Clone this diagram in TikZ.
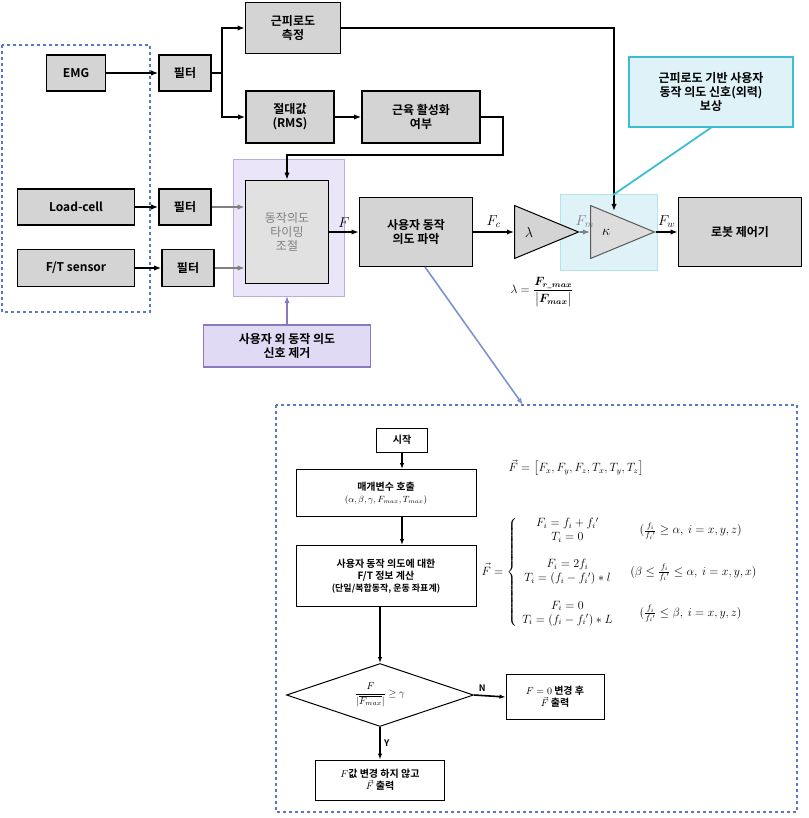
\documentclass[tikz,border=0pt]{standalone}
\usepackage{fontspec}
\usepackage{amsmath}
\setmainfont{Noto Sans CJK KR}[BoldFont={* Bold}]
\usetikzlibrary{arrows.meta,positioning,shapes.geometric}
\definecolor{boxgray}{RGB}{212,212,212}
\definecolor{dashblue}{RGB}{90,120,200}
\definecolor{lav}{RGB}{225,218,245}
\definecolor{lavedge}{RGB}{140,120,190}
\definecolor{aqua}{RGB}{222,242,248}
\definecolor{teal}{RGB}{60,190,210}
\tikzset{
  blk/.style={draw, line width=1.6pt, fill=boxgray, font=\bfseries\large, align=center, inner sep=2pt},
  flw/.style={draw, line width=1pt, fill=white, font=\bfseries, align=center, inner sep=2pt},
  amp/.style={draw, isosceles triangle, line width=1pt, fill=boxgray, inner sep=0pt, minimum height=44pt, minimum width=53pt, anchor=west, font=\Large},
  ln/.style={line width=1.6pt, -{Latex[length=7pt]}},
  fl/.style={line width=1.6pt, -{Latex[length=6pt]}}
}
\begin{document}
\begin{tikzpicture}[x=1pt,y=-1pt]
\useasboundingbox (0,0) rectangle (808,818);
% sensor group
\draw[dashblue, dashed, line width=1.2pt] (2,45) rectangle (150,312);
\node[blk, minimum width=59pt, minimum height=36pt] (emg) at (76,73) {EMG};
\node[blk, minimum width=117pt, minimum height=36pt] (load) at (76,207) {Load-cell};
\node[blk, minimum width=117pt, minimum height=37pt] (ftsen) at (76,268) {F/T sensor};
\node[blk, minimum width=52pt, minimum height=36pt] (fil1) at (185,73) {필터};
\node[blk, minimum width=52pt, minimum height=36pt] (fil2) at (185,207) {필터};
\node[blk, minimum width=52pt, minimum height=37pt] (fil3) at (188,268) {필터};
\node[blk, minimum width=95pt, minimum height=51pt] (fatig) at (293,28) {근피로도\\측정};
\node[blk, minimum width=88pt, minimum height=52pt] (rms) at (290,117) {절대값\\(RMS)};
\node[blk, minimum width=118pt, minimum height=52pt] (act) at (421,117) {근육 활성화\\여부};
% timing block
\draw[lavedge!60, fill=lav!70, line width=1pt] (233,160) rectangle (344,296);
\node[blk, fill=boxgray!70, text=gray, font=\large, minimum width=83pt, minimum height=103pt] (timing) at (287,232) {동작의도\\타이밍\\조절};
\node[draw=lavedge, line width=1.4pt, fill=lav, font=\bfseries\large, align=center, minimum width=167pt, minimum height=42pt, inner sep=1pt] (rej) at (287,346) {사용자 외 동작 의도\\신호 제거};
\coordinate (tbot) at (287,296);
\node[blk, minimum width=113pt, minimum height=69pt] (intent) at (416,232) {사용자 동작\\의도 파악};
% gains
\draw[fill=aqua, draw=teal!40, line width=1pt] (560,195) rectangle (657,270);
\node[amp] (lam) at (514,232) {$\lambda$\hspace*{6pt}};
\node[amp, fill=boxgray!80, draw=gray!70!black] (kap) at (590,232) {$\kappa$\hspace*{6pt}};
\node[blk, minimum width=123pt, minimum height=69pt] (robot) at (740,232) {로봇 제어기};
\node[draw=teal, line width=1.4pt, fill=aqua, font=\bfseries\large, align=center, minimum width=164pt, minimum height=70pt, inner sep=1pt] (comp) at (711,92) {근피로도 기반 사용자\\동작 의도 신호(외력)\\보상};
% connectors
\draw[ln] (emg) -- (fil1);
\draw[ln] (load) -- (fil2);
\draw[ln] (ftsen) -- (fil3);
\draw[line width=1.6pt] (fil1.east) -- (222,73);
\draw[ln] (222,73) |- (fatig.west);
\draw[ln] (222,73) |- (rms.west);
\draw[ln] (rms) -- (act);
\draw[ln] (act.east) -- ++(22,0) |- (287,155) -- (timing.north);
\draw[ln, gray] (fil2.east) -- (timing.west |- fil2);
\draw[ln, gray] (fil3.east) -- (timing.west |- fil3);
\draw[ln, lavedge] (rej.north) -- (tbot);
\draw[ln] (timing.east) -- node[above, font=\Large]{$F$} (intent.west);
\draw[ln] (intent.east) -- node[above, font=\Large]{$F_c$} (lam.west);
\draw[ln, gray] (lam.apex) -- node[above, font=\Large]{$F_m$} (kap.west);
\draw[ln] (kap.apex) -- node[above, font=\Large]{$F_w$} (robot.west);
\draw[ln] (fatig.east) -| (614,211);
\draw[teal, line width=1.8pt] (comp.south) -- (613,195);
\node[font=\large] (lamf) at (542,292) {$\lambda=\dfrac{\boldsymbol{F_{r\_max}}}{\big|\boldsymbol{F_{max}}\big|}$};
% flowchart
\draw[dashblue, dashed, line width=1.2pt] (276,405) rectangle (797,812);
\coordinate (ftop) at (523,405);
\draw[ln, dashblue!80] (425,267) -- (ftop);
\node[flw, minimum width=51pt, minimum height=24pt] (start) at (402,440) {시작};
\node[flw, minimum width=180pt, minimum height=47pt, inner sep=1pt] (param) at (386,493) {매개변수 호출\\{\mdseries\small$(\alpha,\beta,\gamma,F_{max},T_{max})$}};
\node[flw, minimum width=180pt, minimum height=61pt, inner sep=1pt] (calc) at (386,576) {사용자 동작 의도에 대한\\F/T 정보 계산\\{\small(단일/복합동작, 운동 좌표계)}};
\node[flw, diamond, aspect=3, minimum width=187pt, minimum height=63pt, inner sep=0pt, font=\normalsize] (dec) at (380,695) {$\dfrac{F}{|\overline{F_{max}}|}\geq\gamma$};
\node[flw, minimum width=98pt, minimum height=45pt, inner sep=1pt] (nbox) at (555,697) {$F=0$ 변경 후\\$\vec F$ 출력};
\node[flw, minimum width=129pt, minimum height=40pt, inner sep=1pt] (ybox) at (380,780) {$F$값 변경 하지 않고\\$\vec F$ 출력};
\draw[fl] (start) -- (start |- param.north);
\draw[fl] (param.south -| start) -- (start |- calc.north);
\draw[fl] (calc.south -| dec) -- (dec.north);
\draw[fl] (dec.east) -- node[above left, font=\bfseries\small]{N} (nbox.west);
\draw[fl] (dec.south) -- node[right, font=\bfseries\small]{Y} (ybox.north);
\node[font=\large, anchor=west] (fvec) at (505,468) {$\vec F=\big[F_x,F_y,F_z,T_x,T_y,T_z\big]$};
\node[font=\large, anchor=west] (cases) at (478,572) {$\vec F=\left\{\begin{array}{@{}cl@{}}
\begin{array}{c}F_i=f_i+f_i{}'\\ T_i=0\end{array} & \quad(\frac{f_i}{f_i{}'}\geq\alpha,\ i=x,y,z)\\[20pt]
\begin{array}{c}F_i=2f_i\\ T_i=(f_i-f_i{}')\ast l\end{array} & \ (\beta\leq\frac{f_i}{f_i{}'}\leq\alpha,\ i=x,y,x)\\[20pt]
\begin{array}{c}F_i=0\\ T_i=(f_i-f_i{}')\ast L\end{array} & \quad(\frac{f_i}{f_i{}'}\leq\beta,\ i=x,y,z)
\end{array}\right.$};
\end{tikzpicture}
\end{document}
